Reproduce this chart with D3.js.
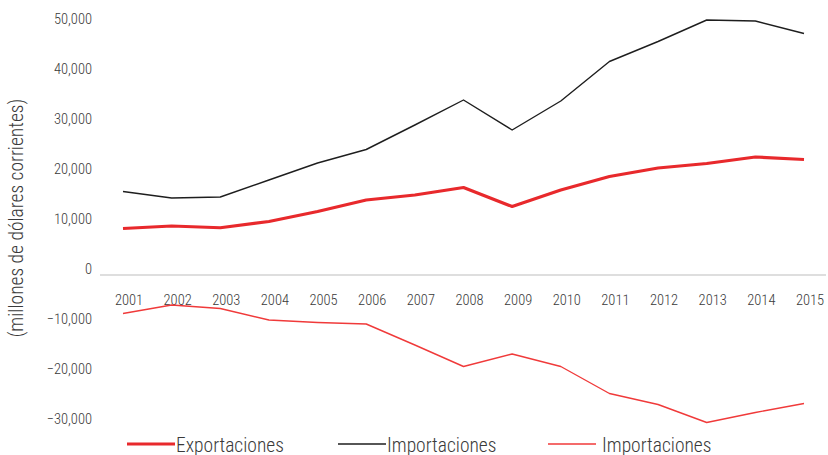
<!DOCTYPE html>
<html>
<head>
<meta charset="utf-8">
<script src="https://cdn.jsdelivr.net/npm/d3@7"></script>
<style>
  body { margin: 0; background: #fff; }
  svg text { font-family: "Roboto Condensed", "Liberation Sans Narrow", "DejaVu Sans Condensed", Roboto, sans-serif; font-stretch: condensed; font-weight: 300; fill: #3a3a3a; }
</style>
</head>
<body>
<div id="chart"></div>
<script>
var years = ["2001","2002","2003","2004","2005","2006","2007","2008","2009","2010","2011","2012","2013","2014","2015"];
var exportaciones = [9300, 9800, 9450, 10700, 12700, 15000, 16000, 17500, 13700, 17000, 19700, 21400, 22300, 23600, 23100];
var importaciones = [16700, 15400, 15600, 19000, 22400, 25100, 30000, 35000, 29000, 34800, 42700, 46700, 51000, 50800, 48300];
var balanza = [-7700, -6000, -6700, -9000, -9500, -9800, -14000, -18300, -15800, -18300, -23700, -25900, -29500, -27500, -25700];
var yTicks = [-30000, -20000, -10000, 0, 10000, 20000, 30000, 40000, 50000];
var legendLabels = ["Exportaciones", "Importaciones", "Importaciones"];

var width = 828, height = 455;

var svg = d3.select("#chart").append("svg")
  .attr("width", width)
  .attr("height", height);

var x = d3.scalePoint().domain(years).range([123, 804]);
var y = d3.scaleLinear().domain([-30000, 50000]).range([425, 25]);

// y tick labels (sit a little above their value, like the original)
svg.append("g").selectAll("text")
  .data(yTicks)
  .enter().append("text")
  .attr("x", 92)
  .attr("y", function(d) { return y(d) - 6; })
  .attr("dy", "0.35em")
  .attr("text-anchor", "end")
  .style("font-size", "14.5px")
  .text(function(d) { return d3.format(",")(d); });

// zero line
svg.append("line")
  .attr("x1", 100).attr("x2", 826)
  .attr("y1", y(0)).attr("y2", y(0))
  .attr("stroke", "#d3d3d3")
  .attr("stroke-width", 1.5);

// year labels
svg.append("g").selectAll("text")
  .data(years)
  .enter().append("text")
  .attr("x", function(d) { return x(d) + 6; })
  .attr("y", 304.5)
  .attr("text-anchor", "middle")
  .style("font-size", "14.5px")
  .text(function(d) { return d; });

// axis title
svg.append("text")
  .attr("transform", "translate(23,218) rotate(-90)")
  .attr("text-anchor", "middle")
  .style("font-size", "19.5px")
  .text("(millones de dólares corrientes)");

var series = [
  { values: balanza, color: "#f03a3a", width: 1.4 },
  { values: importaciones, color: "#1e1e1e", width: 1.4 },
  { values: exportaciones, color: "#e8292c", width: 3.2 }
];

var line = d3.line()
  .x(function(d, i) { return x(years[i]); })
  .y(function(d) { return y(d); });

svg.append("g").selectAll("path")
  .data(series)
  .enter().append("path")
  .attr("d", function(d) { return line(d.values); })
  .attr("fill", "none")
  .attr("stroke", function(d) { return d.color; })
  .attr("stroke-width", function(d) { return d.width; })
  .attr("stroke-linejoin", "round");

// legend
var legendItems = [
  { label: legendLabels[0], color: "#e8292c", width: 3.2, x: 127, textX: 176 },
  { label: legendLabels[1], color: "#1e1e1e", width: 1.4, x: 338, textX: 387 },
  { label: legendLabels[2], color: "#f03a3a", width: 1.4, x: 548, textX: 602 }
];

var legend = svg.append("g").selectAll("g")
  .data(legendItems)
  .enter().append("g");

legend.append("line")
  .attr("x1", function(d) { return d.x; })
  .attr("x2", function(d) { return d.x + 48; })
  .attr("y1", 444).attr("y2", 444)
  .attr("stroke", function(d) { return d.color; })
  .attr("stroke-width", function(d) { return d.width; });

legend.append("text")
  .attr("x", function(d) { return d.textX; })
  .attr("y", 451.5)
  .style("font-size", "19.5px")
  .text(function(d) { return d.label; });
</script>
</body>
</html>
